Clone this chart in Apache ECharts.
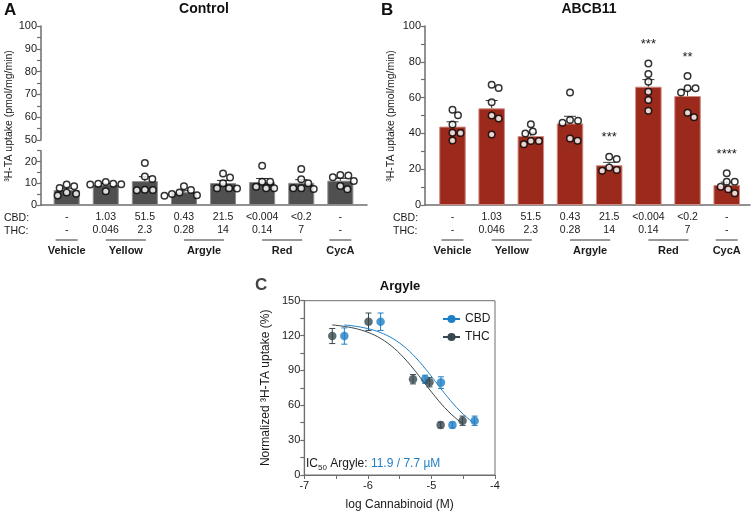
<!DOCTYPE html>
<html><head><meta charset="utf-8">
<script src="https://cdn.jsdelivr.net/npm/echarts@6/dist/echarts.min.js"></script>
<style>html,body{margin:0;padding:0;background:#fff}#c{width:754px;height:514px}</style>
</head><body><div id="c"></div>
<script>
const FONT = '"Liberation Sans", Arial, Helvetica, sans-serif';

// ---- Panels A / B : categories ----
const cbdDoses = ['-', '1.03', '51.5', '0.43', '21.5', '<0.004', '<0.2', '-'];
const thcDoses = ['-', '0.046', '2.3', '0.28', '14', '0.14', '7', '-'];
const groupNames = ['Vehicle', 'Yellow', 'Argyle', 'Red', 'CycA'];
const groupStart = [0, 1, 3, 5, 7];
const groupEnd = [0, 2, 4, 6, 7];

// Panel A: Control
const controlMeans = [6.9, 9.2, 11.0, 5.9, 10.1, 10.6, 10.2, 11.2];
const controlPoints = [
  [9.4, 8.6, 7.8, 5.8, 5.2, 4.4],
  [10.6, 9.8, 9.6, 9.8, 9.4, 6.3],
  [19.3, 13.1, 12.0, 6.9, 7.0, 6.8],
  [8.6, 6.9, 5.7, 5.1, 4.5, 4.3],
  [14.5, 12.7, 10.0, 7.7, 7.6, 7.7],
  [18.1, 10.7, 10.7, 8.4, 7.7, 7.7],
  [16.6, 11.8, 10.0, 7.7, 7.7, 7.4],
  [13.6, 13.8, 12.8, 11.0, 8.8, 7.2]
];

// Panel B: ABCB11
const abcbMeans = [43.8, 54.0, 38.5, 45.6, 22.2, 66.1, 60.9, 11.2];
const abcbPoints = [
  [53.2, 50.2, 45.0, 40.4, 40.2, 36.0],
  [67.2, 65.4, 57.4, 50.0, 48.3, 39.4],
  [45.1, 41.0, 40.0, 35.8, 35.8, 33.9],
  [62.9, 47.5, 47.1, 46.0, 37.1, 35.9],
  [27.0, 25.7, 21.0, 19.2, 19.6],
  [79.1, 73.2, 68.9, 63.3, 58.7, 52.7],
  [72.1, 65.2, 65.2, 62.8, 51.6, 49.0],
  [17.7, 13.0, 13.0, 10.2, 8.8, 6.5]
];
const abcbStars = ['', '', '', '', '***', '***', '**', '****'];

// ---- Panel C : Argyle dose response ----
const cbdLogDose = [-6.37, -5.80, -5.10, -4.85, -4.67, -4.32];
const cbdUptake = [119.6, 131.9, 82.4, 79.5, 43.0, 46.7];
const cbdSem = [7, 7.5, 3.5, 5, 2.5, 4];
const thcLogDose = [-6.56, -5.99, -5.29, -5.03, -4.855, -4.51];
const thcUptake = [119.6, 131.9, 82.4, 79.8, 43.0, 46.7];
const thcSem = [6.5, 7.5, 4, 4, 2.5, 4];
// 4-parameter logistic fit: [CBD, THC]
const fitTop = [131, 131];
const fitBottom = [28, 28];
const fitIC50uM = [11.9, 7.7];
const fitHill = [1.2, 1.2];

const CBD_COLOR = '#1f7fc6';
const THC_COLOR = '#37474f';
const AXIS_COLOR = '#6e6e6e';
const TEXT_COLOR = '#1a1a1a';

function mean(a) { return a.reduce((s, v) => s + v, 0) / a.length; }
function sem(a) {
  const m = mean(a);
  const v = a.reduce((s, x) => s + (x - m) * (x - m), 0) / (a.length - 1);
  return Math.sqrt(v / a.length);
}
// simple beeswarm to spread overlapping dots horizontally (pixel based)
function swarm(points, pxPerUnit, pxPerCat, diam) {
  const out = [];
  points.forEach((vals, ci) => {
    const order = vals.map((v, i) => i).sort((a, b) => vals[b] - vals[a]);
    const placed = [];
    order.forEach(i => {
      const y = vals[i] * pxPerUnit;
      let chosen = 0;
      for (let k = 0; k < 80; k++) {
        const c = (k % 2 ? 1 : -1) * Math.ceil(k / 2) * 0.5;
        if (placed.every(p => (p[0] - c) * (p[0] - c) + (p[1] - y) * (p[1] - y) >= diam * diam)) { chosen = c; break; }
      }
      placed.push([chosen, y]);
      out.push([ci + chosen / pxPerCat, vals[i]]);
    });
  });
  return out;
}
function logistic(x, k) {
  const lic = Math.log10(fitIC50uM[k] * 1e-6);
  return fitBottom[k] + (fitTop[k] - fitBottom[k]) / (1 + Math.pow(10, (x - lic) * fitHill[k]));
}
function curve(doses, k) {
  const a = doses[0], b = doses[doses.length - 1], n = 80, out = [];
  for (let i = 0; i <= n; i++) { const x = a + (b - a) * i / n; out.push([x, logistic(x, k)]); }
  return out;
}

// layout (pixels)
const A = { left: 41, right: 367, top: 26, brk1: 140, brk2: 150.7, base: 205, barL: 47.1, barW: 312.8 };
const B = { left: 425, right: 750, top: 26, base: 205, barL: 432.9, barW: 313.4 };
const C = { left: 304.3, top: 300.7, width: 190.7, height: 174.3 };

const tickLabel = { color: TEXT_COLOR, fontSize: 11, fontFamily: FONT };
function visibleY(grid, min, max, step, labelEvery) {
  return {
    gridIndex: grid, type: 'value', min: min, max: max, interval: step,
    axisLine: { show: true, lineStyle: { color: AXIS_COLOR, width: 1.5 } },
    axisTick: { show: true, length: 4, lineStyle: { color: AXIS_COLOR, width: 1.2 } },
    axisLabel: Object.assign({ margin: 4, formatter: v => (Math.abs(v % labelEvery) < 1e-9 ? String(v) : '') }, tickLabel),
    splitLine: { show: false }
  };
}
function hiddenY(grid, min, max) {
  return { gridIndex: grid, type: 'value', min: min, max: max, show: false, splitLine: { show: false } };
}
function lineOnlyX(grid) {
  return {
    gridIndex: grid, type: 'value', min: 0, max: 1, position: 'bottom',
    axisLine: { show: true, onZero: false, lineStyle: { color: AXIS_COLOR, width: 1.5 } },
    axisTick: { show: false }, axisLabel: { show: false }, splitLine: { show: false }
  };
}
function catX(grid) {
  return {
    gridIndex: grid, type: 'category', data: cbdDoses.map((c, i) => i), position: 'bottom',
    axisLine: { show: false }, axisTick: { show: false }, splitLine: { show: false },
    axisLabel: {
      interval: 0, margin: 6, color: TEXT_COLOR, fontSize: 10.5, fontFamily: FONT, lineHeight: 13,
      formatter: v => cbdDoses[v] + '\n' + thcDoses[v]
    }
  };
}
function hiddenCatValueX(grid) {
  return { gridIndex: grid, type: 'value', min: -0.5, max: 7.5, show: false, splitLine: { show: false } };
}

function errBarRender(color, capHalf, lw) {
  return function (params, api) {
    const x = api.value(0);
    const p1 = api.coord([x, api.value(1)]);
    const p2 = api.coord([x, api.value(2)]);
    return {
      type: 'group', children: [
        { type: 'line', shape: { x1: p1[0], y1: p1[1], x2: p2[0], y2: p2[1] }, style: { stroke: color, lineWidth: lw } },
        { type: 'line', shape: { x1: p1[0] - capHalf, y1: p1[1], x2: p1[0] + capHalf, y2: p1[1] }, style: { stroke: color, lineWidth: lw } }
      ]
    };
  };
}
function errBarBothRender(color, capHalf) {
  return function (params, api) {
    const x = api.value(0), y = api.value(1), e = api.value(2);
    const p1 = api.coord([x, y + e]);
    const p2 = api.coord([x, y - e]);
    return {
      type: 'group', children: [
        { type: 'line', shape: { x1: p1[0], y1: p1[1], x2: p2[0], y2: p2[1] }, style: { stroke: color, lineWidth: 1 } },
        { type: 'line', shape: { x1: p1[0] - capHalf, y1: p1[1], x2: p1[0] + capHalf, y2: p1[1] }, style: { stroke: color, lineWidth: 1 } },
        { type: 'line', shape: { x1: p2[0] - capHalf, y1: p2[1], x2: p2[0] + capHalf, y2: p2[1] }, style: { stroke: color, lineWidth: 1 } }
      ]
    };
  };
}
function groupRender(params, api) {
  const s = api.value(0), e = api.value(1), gi = api.value(2);
  const a = api.coord([s, 0]), b = api.coord([e, 0]);
  const single = s === e;
  const x1 = a[0] - (single ? 11 : 0), x2 = b[0] + (single ? 11 : 1);
  const y = a[1] + 35;
  return {
    type: 'group', children: [
      { type: 'line', shape: { x1: x1, y1: y, x2: x2, y2: y }, style: { stroke: '#333', lineWidth: 1 } },
      { type: 'text', style: { x: (x1 + x2) / 2, y: y + 11, text: groupNames[gi], align: 'center', verticalAlign: 'middle',
          fontSize: 11, fontWeight: 'bold', fontFamily: FONT, fill: TEXT_COLOR } }
    ]
  };
}
function starRender(params, api) {
  const p = api.coord([api.value(0), api.value(1)]);
  return { type: 'text', style: { x: p[0], y: p[1] - 19, text: abcbStars[api.value(0)], align: 'center', verticalAlign: 'middle',
      fontSize: 13, fontFamily: FONT, fill: TEXT_COLOR } };
}

const groupData = groupNames.map((g, i) => [groupStart[i], groupEnd[i], i]);
const ptStyle = { color: '#ffffff', borderColor: '#000', borderWidth: 1.5 };

const option = {
  animation: false,
  backgroundColor: '#ffffff',
  textStyle: { fontFamily: FONT },
  grid: [
    { left: A.left, top: A.top, width: A.right - A.left, height: A.brk1 - A.top },
    { left: A.left, top: A.brk2, width: A.right - A.left, height: A.base - A.brk2 },
    { left: A.barL, top: A.brk2, width: A.barW, height: A.base - A.brk2 },
    { left: B.left, top: B.top, width: B.right - B.left, height: B.base - B.top },
    { left: B.barL, top: B.top, width: B.barW, height: B.base - B.top },
    { left: C.left, top: C.top, width: C.width, height: C.height, show: true, borderColor: AXIS_COLOR, borderWidth: 1 }
  ],
  xAxis: [
    { gridIndex: 0, type: 'value', min: 0, max: 1, show: false },
    lineOnlyX(1),
    catX(2),
    hiddenCatValueX(2),
    lineOnlyX(3),
    catX(4),
    hiddenCatValueX(4),
    {
      gridIndex: 5, type: 'value', min: -7, max: -4, interval: 0.5,
      axisLine: { show: true, onZero: false, lineStyle: { color: AXIS_COLOR, width: 1.2 } },
      axisTick: { show: true, length: 4, lineStyle: { color: AXIS_COLOR } },
      axisLabel: Object.assign({ margin: 5, formatter: v => (Number.isInteger(v) ? String(v) : '') }, tickLabel),
      splitLine: { show: false },
      name: 'log Cannabinoid (M)', nameLocation: 'middle', nameGap: 24,
      nameTextStyle: { color: TEXT_COLOR, fontSize: 12, fontFamily: FONT }
    }
  ],
  yAxis: [
    visibleY(0, 50, 100, 5, 10),
    visibleY(1, 0, 25, 5, 10),
    hiddenY(2, 0, 25),
    visibleY(3, 0, 100, 10, 20),
    hiddenY(4, 0, 100),
    Object.assign(visibleY(5, 0, 150, 15, 30), {
      axisLine: { show: true, lineStyle: { color: AXIS_COLOR, width: 1.2 } },
      name: 'Normalized \u00B3H-TA uptake (%)', nameLocation: 'middle', nameGap: 33,
      nameTextStyle: { color: TEXT_COLOR, fontSize: 12, fontFamily: FONT }
    })
  ],
  legend: {
    orient: 'vertical', left: 437, top: 308, itemWidth: 17, itemHeight: 10, itemGap: 6,
    data: ['CBD', 'THC'], textStyle: { color: TEXT_COLOR, fontSize: 12, fontFamily: FONT }
  },
  series: [
    // ----- Panel A -----
    { type: 'bar', xAxisIndex: 2, yAxisIndex: 2, data: controlMeans, barWidth: 26, z: 2,
      itemStyle: { color: '#505050', borderColor: '#8c8c8c', borderWidth: 1 } },
    { type: 'custom', xAxisIndex: 3, yAxisIndex: 2, z: 3, renderItem: errBarRender('#2b2b2b', 6, 1),
      data: controlMeans.map((m, i) => [i, m + sem(controlPoints[i]), m]) },
    { type: 'scatter', xAxisIndex: 3, yAxisIndex: 2, z: 4, symbolSize: 6.5, itemStyle: ptStyle,
      data: swarm(controlPoints, (A.base - A.brk2) / 25, A.barW / 8, 7.6) },
    { type: 'custom', xAxisIndex: 3, yAxisIndex: 2, renderItem: groupRender, data: groupData, clip: false },
    // ----- Panel B -----
    { type: 'bar', xAxisIndex: 5, yAxisIndex: 4, data: abcbMeans, barWidth: 26.5, z: 2,
      itemStyle: { color: '#9b2a1c', borderColor: '#cf8a80', borderWidth: 1 } },
    { type: 'custom', xAxisIndex: 6, yAxisIndex: 4, z: 3, renderItem: errBarRender('#3a3a3a', 6, 1),
      data: abcbMeans.map((m, i) => [i, m + sem(abcbPoints[i]), m]) },
    { type: 'scatter', xAxisIndex: 6, yAxisIndex: 4, z: 4, symbolSize: 6.5, itemStyle: ptStyle,
      data: swarm(abcbPoints, (B.base - B.top) / 100, B.barW / 8, 7.6) },
    { type: 'custom', xAxisIndex: 6, yAxisIndex: 4, renderItem: groupRender, data: groupData, clip: false },
    { type: 'custom', xAxisIndex: 6, yAxisIndex: 4, renderItem: starRender, clip: false,
      data: abcbPoints.map((p, i) => [i, Math.max.apply(null, p)]).filter(d => abcbStars[d[0]] !== '') },
    // ----- Panel C -----
    { name: 'CBD', type: 'line', xAxisIndex: 7, yAxisIndex: 5, data: curve(cbdLogDose, 0), showSymbol: false,
      symbol: 'circle', color: CBD_COLOR, lineStyle: { width: 1, color: CBD_COLOR }, itemStyle: { color: CBD_COLOR } },
    { name: 'THC', type: 'line', xAxisIndex: 7, yAxisIndex: 5, data: curve(thcLogDose, 1), showSymbol: false,
      symbol: 'circle', color: THC_COLOR, lineStyle: { width: 1, color: THC_COLOR }, itemStyle: { color: THC_COLOR } },
    { type: 'custom', xAxisIndex: 7, yAxisIndex: 5, renderItem: errBarBothRender(CBD_COLOR, 3),
      data: cbdLogDose.map((x, i) => [x, cbdUptake[i], cbdSem[i]]) },
    { type: 'custom', xAxisIndex: 7, yAxisIndex: 5, renderItem: errBarBothRender(THC_COLOR, 3),
      data: thcLogDose.map((x, i) => [x, thcUptake[i], thcSem[i]]) },
    { name: 'CBD pts', type: 'scatter', xAxisIndex: 7, yAxisIndex: 5, symbolSize: 8.5, itemStyle: { color: CBD_COLOR },
      data: cbdLogDose.map((x, i) => [x, cbdUptake[i]]) },
    { name: 'THC pts', type: 'scatter', xAxisIndex: 7, yAxisIndex: 5, symbolSize: 8.5, itemStyle: { color: THC_COLOR },
      data: thcLogDose.map((x, i) => [x, thcUptake[i]]) }
  ],
  graphic: [
    { type: 'text', x: 4, y: 2, style: { text: 'A', fontSize: 17, fontWeight: 'bold', fontFamily: FONT, fill: '#111' } },
    { type: 'text', x: 381, y: 2, style: { text: 'B', fontSize: 17, fontWeight: 'bold', fontFamily: FONT, fill: '#111' } },
    { type: 'text', x: 255, y: 277, style: { text: 'C', fontSize: 17, fontWeight: 'bold', fontFamily: FONT, fill: '#444' } },
    { type: 'text', x: 204, y: 9, style: { text: 'Control', align: 'center', verticalAlign: 'middle', fontSize: 14, fontWeight: 'bold', fontFamily: FONT, fill: '#111' } },
    { type: 'text', x: 589, y: 9, style: { text: 'ABCB11', align: 'center', verticalAlign: 'middle', fontSize: 14, fontWeight: 'bold', fontFamily: FONT, fill: '#111' } },
    { type: 'text', x: 400, y: 286, style: { text: 'Argyle', align: 'center', verticalAlign: 'middle', fontSize: 13, fontWeight: 'bold', fontFamily: FONT, fill: '#111' } },
    { type: 'text', x: 9, y: 116, rotation: Math.PI / 2, style: { text: '\u00B3H-TA uptake (pmol/mg/min)', align: 'center', verticalAlign: 'middle', fontSize: 10.5, fontFamily: FONT, fill: TEXT_COLOR } },
    { type: 'text', x: 391, y: 116, rotation: Math.PI / 2, style: { text: '\u00B3H-TA uptake (pmol/mg/min)', align: 'center', verticalAlign: 'middle', fontSize: 10.5, fontFamily: FONT, fill: TEXT_COLOR } },
    { type: 'text', x: 4, y: 218, style: { text: 'CBD:', verticalAlign: 'middle', fontSize: 10.5, fontFamily: FONT, fill: TEXT_COLOR } },
    { type: 'text', x: 4, y: 231, style: { text: 'THC:', verticalAlign: 'middle', fontSize: 10.5, fontFamily: FONT, fill: TEXT_COLOR } },
    { type: 'text', x: 393, y: 218, style: { text: 'CBD:', verticalAlign: 'middle', fontSize: 10.5, fontFamily: FONT, fill: TEXT_COLOR } },
    { type: 'text', x: 393, y: 231, style: { text: 'THC:', verticalAlign: 'middle', fontSize: 10.5, fontFamily: FONT, fill: TEXT_COLOR } },
    { type: 'text', x: 306, y: 464, style: {
        text: '{a|IC}{s|50}{a| Argyle: }{b|11.9 / 7.7 \u00B5M}', verticalAlign: 'middle',
        rich: {
          a: { fontSize: 12, fontFamily: FONT, fill: TEXT_COLOR, color: TEXT_COLOR, lineHeight: 16 },
          s: { fontSize: 8, fontFamily: FONT, fill: TEXT_COLOR, color: TEXT_COLOR, lineHeight: 8, verticalAlign: 'bottom' },
          b: { fontSize: 12, fontFamily: FONT, fill: CBD_COLOR, color: CBD_COLOR, lineHeight: 16 }
        } } }
  ]
};

const chart = echarts.init(document.getElementById('c'), null, { renderer: 'canvas' });
chart.setOption(option);
</script>
</body></html>
